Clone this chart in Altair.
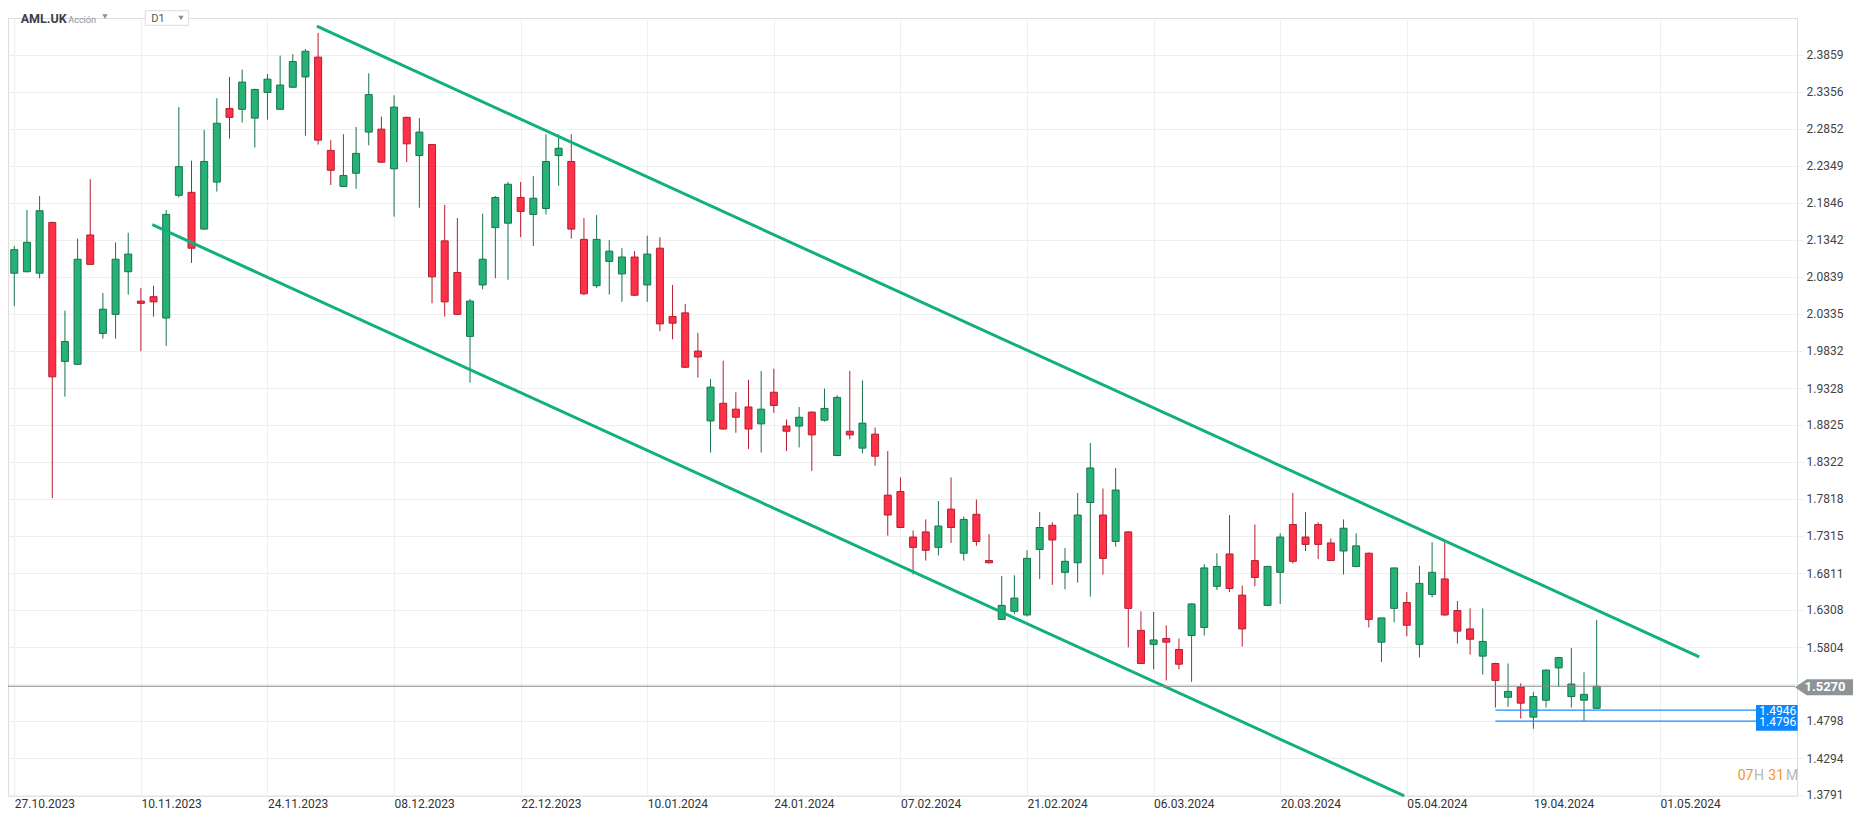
import json
import altair as alt
import pandas as pd

# ---------------- data ----------------
opens = [2.089, 2.091, 2.089, 2.158, 1.969, 1.965, 2.141, 2.007, 2.033, 2.091,
         2.051, 2.057, 2.028, 2.195, 2.199, 2.149, 2.213, 2.313, 2.312, 2.300,
         2.335, 2.312, 2.342, 2.356, 2.383, 2.256, 2.207, 2.225, 2.281, 2.285,
         2.231, 2.301, 2.249, 2.264, 2.133, 2.090, 2.003, 2.073, 2.151, 2.157,
         2.192, 2.169, 2.177, 2.249, 2.241, 2.135, 2.072, 2.105, 2.088, 2.111,
         2.073, 2.123, 2.030, 2.035, 1.983, 1.888, 1.912, 1.904, 1.907, 1.884,
         1.927, 1.881, 1.881, 1.900, 1.889, 1.841, 1.874, 1.851, 1.870, 1.787,
         1.792, 1.730, 1.737, 1.716, 1.768, 1.708, 1.761, 1.698, 1.618, 1.629,
         1.624, 1.713, 1.746, 1.682, 1.695, 1.777, 1.760, 1.724, 1.737, 1.603,
         1.584, 1.592, 1.577, 1.596, 1.607, 1.663, 1.707, 1.651, 1.698, 1.637,
         1.682, 1.747, 1.730, 1.747, 1.722, 1.711, 1.690, 1.708, 1.587, 1.633,
         1.641, 1.584, 1.652, 1.673, 1.630, 1.605, 1.568, 1.558, 1.512, 1.526,
         1.485, 1.508, 1.552, 1.513, 1.508, 1.497]
highs = [2.126, 2.175, 2.194, 2.159, 2.038, 2.136, 2.217, 2.062, 2.131, 2.144,
         2.069, 2.072, 2.175, 2.315, 2.242, 2.284, 2.327, 2.356, 2.366, 2.340,
         2.360, 2.385, 2.387, 2.394, 2.416, 2.270, 2.278, 2.288, 2.361, 2.302,
         2.331, 2.302, 2.300, 2.265, 2.182, 2.164, 2.054, 2.170, 2.194, 2.213,
         2.213, 2.221, 2.278, 2.278, 2.278, 2.164, 2.168, 2.134, 2.123, 2.119,
         2.140, 2.138, 2.073, 2.047, 2.008, 1.945, 1.970, 1.927, 1.944, 1.956,
         1.959, 1.890, 1.907, 1.901, 1.932, 1.923, 1.956, 1.943, 1.879, 1.847,
         1.811, 1.739, 1.754, 1.779, 1.811, 1.758, 1.781, 1.734, 1.677, 1.678,
         1.712, 1.764, 1.750, 1.715, 1.790, 1.858, 1.796, 1.824, 1.738, 1.629,
         1.628, 1.610, 1.592, 1.640, 1.693, 1.708, 1.760, 1.664, 1.747, 1.691,
         1.735, 1.790, 1.764, 1.750, 1.728, 1.754, 1.735, 1.709, 1.620, 1.688,
         1.655, 1.691, 1.723, 1.723, 1.643, 1.633, 1.633, 1.559, 1.558, 1.531,
         1.519, 1.550, 1.567, 1.579, 1.546, 1.617]
lows = [2.044, 2.090, 2.082, 1.783, 1.921, 1.964, 2.100, 2.000, 2.000, 2.060,
        1.983, 2.030, 1.990, 2.192, 2.103, 2.148, 2.200, 2.272, 2.294, 2.260,
        2.298, 2.311, 2.341, 2.276, 2.264, 2.209, 2.206, 2.204, 2.263, 2.239,
        2.166, 2.240, 2.178, 2.048, 2.030, 2.032, 1.940, 2.067, 2.082, 2.080,
        2.138, 2.126, 2.169, 2.208, 2.136, 2.059, 2.069, 2.060, 2.050, 2.058,
        2.050, 2.010, 1.999, 1.960, 1.947, 1.845, 1.876, 1.872, 1.850, 1.845,
        1.899, 1.847, 1.852, 1.820, 1.887, 1.840, 1.863, 1.844, 1.827, 1.732,
        1.742, 1.679, 1.698, 1.705, 1.722, 1.698, 1.718, 1.694, 1.617, 1.625,
        1.622, 1.673, 1.665, 1.659, 1.668, 1.649, 1.679, 1.717, 1.580, 1.557,
        1.550, 1.535, 1.550, 1.533, 1.596, 1.658, 1.655, 1.581, 1.663, 1.636,
        1.639, 1.694, 1.711, 1.700, 1.698, 1.679, 1.689, 1.607, 1.560, 1.614,
        1.595, 1.566, 1.648, 1.623, 1.585, 1.570, 1.543, 1.498, 1.499, 1.483,
        1.469, 1.498, 1.526, 1.498, 1.480, 1.496]
closes = [2.121, 2.131, 2.174, 1.948, 1.996, 2.108, 2.101, 2.040, 2.108, 2.115,
          2.048, 2.050, 2.169, 2.234, 2.123, 2.241, 2.293, 2.301, 2.349, 2.339,
          2.353, 2.345, 2.377, 2.391, 2.270, 2.229, 2.222, 2.252, 2.332, 2.240,
          2.315, 2.265, 2.281, 2.084, 2.050, 2.033, 2.051, 2.108, 2.192, 2.210,
          2.173, 2.191, 2.241, 2.259, 2.149, 2.061, 2.135, 2.119, 2.111, 2.059,
          2.115, 2.020, 2.021, 1.961, 1.975, 1.934, 1.877, 1.893, 1.877, 1.904,
          1.909, 1.874, 1.893, 1.869, 1.905, 1.920, 1.869, 1.885, 1.840, 1.760,
          1.743, 1.716, 1.712, 1.745, 1.743, 1.754, 1.724, 1.695, 1.637, 1.647,
          1.701, 1.743, 1.726, 1.697, 1.760, 1.824, 1.701, 1.794, 1.633, 1.558,
          1.590, 1.587, 1.557, 1.639, 1.688, 1.690, 1.660, 1.605, 1.675, 1.690,
          1.730, 1.697, 1.720, 1.720, 1.698, 1.742, 1.718, 1.618, 1.620, 1.688,
          1.610, 1.667, 1.682, 1.624, 1.602, 1.591, 1.588, 1.535, 1.520, 1.504,
          1.513, 1.549, 1.566, 1.530, 1.516, 1.527]

date_labels = ["27.10.2023", "10.11.2023", "24.11.2023", "08.12.2023", "22.12.2023",
               "10.01.2024", "24.01.2024", "07.02.2024", "21.02.2024", "06.03.2024",
               "20.03.2024", "05.04.2024", "19.04.2024", "01.05.2024"]
date_ticks = [0, 10, 20, 30, 40, 50, 60, 70, 80, 90, 100, 110, 120, 130]
price_ticks = [2.3859, 2.3356, 2.2852, 2.2349, 2.1846, 2.1342, 2.0839, 2.0335,
               1.9832, 1.9328, 1.8825, 1.8322, 1.7818, 1.7315, 1.6811, 1.6308,
               1.5804, 1.5301, 1.4798, 1.4294, 1.3791]

upper_x = [23.9, 133.1]
upper_y = [2.425, 1.567]
lower_x = [10.9, 109.8]
lower_y = [2.155, 1.378]
last_price = 1.5270
levels = [1.4946, 1.4796]
level_start = 117

# ---------------- layout ----------------
W, H = 1789, 778
X_DOM = [-0.102, 140.43]
Y_DOM = [1.3777, 2.4362]

GREEN_FILL, GREEN_LINE = "#26b276", "#17744c"
RED_FILL, RED_LINE = "#ff3047", "#b41e30"
GRID = "#efefef"
FONT = "Roboto"

df = pd.DataFrame({"i": list(range(len(opens))), "open": opens, "high": highs,
                   "low": lows, "close": closes})
df["dir"] = ["up" if c >= o else "down" for o, c in zip(opens, closes)]

xscale = alt.Scale(domain=X_DOM, nice=False, zero=False)
yscale = alt.Scale(domain=Y_DOM, nice=False, zero=False)

label_js = json.dumps(date_labels)
x_axis = alt.Axis(values=date_ticks, labelExpr=f"{label_js}[round(datum.value / 10)]",
                  grid=True, gridColor=GRID, gridWidth=1, domain=True, domainColor="#e6e6e6",
                  ticks=False, labelAlign="left", labelBaseline="top", labelPadding=2,
                  labelFont=FONT, labelFontSize=12, labelColor="#333333",
                  labelFlush=False, labelOverlap=False, title=None)
y_axis = alt.Axis(orient="right", values=price_ticks,
                  labelExpr="format(datum.value, '.4f') == '1.5301' ? '' : format(datum.value, '.4f')",
                  grid=True, gridColor=GRID, gridWidth=1, domain=False, ticks=True,
                  tickColor=GRID, tickSize=6, labelPadding=3, labelFont=FONT,
                  labelFontSize=12, labelColor="#444444", labelFlush=False,
                  labelOverlap=False, title=None)


def X(field):
    return alt.X(f"{field}:Q", scale=xscale, axis=x_axis)


def Y(field):
    return alt.Y(f"{field}:Q", scale=yscale, axis=y_axis)


base = alt.Chart(df)
wicks = base.mark_rule(strokeWidth=1).encode(
    x=X("i"), y=Y("low"), y2="high",
    color=alt.Color("dir:N", scale=alt.Scale(domain=["up", "down"], range=[GREEN_LINE, RED_LINE]),
                    legend=None))
bodies = base.mark_bar(size=7, strokeWidth=1).encode(
    x=X("i"), y=Y("open"), y2="close",
    fill=alt.Fill("dir:N", scale=alt.Scale(domain=["up", "down"], range=[GREEN_FILL, RED_FILL]),
                  legend=None),
    stroke=alt.Stroke("dir:N", scale=alt.Scale(domain=["up", "down"], range=[GREEN_LINE, RED_LINE]),
                      legend=None))

trend_df = pd.DataFrame({"x": upper_x + lower_x, "y": upper_y + lower_y,
                         "g": ["upper", "upper", "lower", "lower"]})
trends = alt.Chart(trend_df).mark_line(strokeWidth=3, color="#12b07a").encode(
    x=X("x"), y=Y("y"), detail="g:N")

price_line = alt.Chart(pd.DataFrame({"p": [last_price]})).mark_rule(
    color="#8a8a8a", strokeWidth=1).encode(y=Y("p"), x=alt.value(0), x2=alt.value(W - 2))

lvl_df = pd.DataFrame({"p": levels, "s": [level_start] * len(levels),
                       "t": [f"{v:.4f}" for v in levels]})
level_lines = alt.Chart(lvl_df).mark_rule(color="#1a8cff", strokeWidth=1.2).encode(
    y=Y("p"), x=X("s"), x2=alt.value(W))

box_hi = alt.Chart(lvl_df.iloc[[0]]).mark_point(
    shape="M-2.606,-0.625L2.606,-0.625L2.606,1L-2.606,1Z", filled=True, size=256,
    opacity=1, color="#0a86ff", strokeWidth=0).encode(x=alt.value(1768.85), y=Y("p"))
box_lo = alt.Chart(lvl_df.iloc[[1]]).mark_point(
    shape="M-2.606,-0.375L2.606,-0.375L2.606,1.2L-2.606,1.2Z", filled=True, size=256,
    opacity=1, color="#0a86ff", strokeWidth=0).encode(x=alt.value(1768.85), y=Y("p"))
lvl_text = alt.Chart(lvl_df).mark_text(color="white", font=FONT, fontSize=12, align="center",
                                       baseline="middle", dy=1).encode(
    x=alt.value(1769.7), y=Y("p"), text="t:N")

tag_df = pd.DataFrame({"p": [last_price], "t": [f"{last_price:.4f}"]})
tag = alt.Chart(tag_df).mark_point(
    shape="M-3.625,0.125L-2.16,-0.875L3.625,-0.875L3.625,1.125L-2.16,1.125Z",
    filled=True, size=256, opacity=1, color="#8c9497", strokeWidth=0).encode(
    x=alt.value(1816), y=Y("p"))
tag_text = alt.Chart(tag_df).mark_text(color="white", font=FONT, fontSize=13, fontWeight="bold",
                                       align="center", baseline="middle", dy=1).encode(
    x=alt.value(1817), y=Y("p"), text="t:N")


def label(txt, x, y, **kw):
    return alt.Chart(pd.DataFrame({"t": [txt]})).mark_text(
        align="left", baseline="middle", font=FONT, **kw).encode(
        x=alt.value(x), y=alt.value(y), text="t:N")


def tri(x, y, size, color):
    return alt.Chart(pd.DataFrame({"t": [0]})).mark_point(
        shape="triangle-down", filled=True, size=size, opacity=1, color=color,
        strokeWidth=0).encode(x=alt.value(x), y=alt.value(y))


d1_box = alt.Chart(pd.DataFrame({"t": [0]})).mark_rect(
    fill="white", stroke="#dcdcdc", strokeWidth=1).encode(
    x=alt.value(137.3), x2=alt.value(180.7), y=alt.value(-7.3), y2=alt.value(7.3))

header = [
    label("AML.UK", 12.7, 0.5, fontSize=12.5, fontWeight="bold", color="#3c4148"),
    label("Acción", 60.3, 1.5, fontSize=9, color="#8a8f94"),
    tri(97, -1.5, 30, "#8a8f94"),
    d1_box,
    label("D1", 143.3, 0.7, fontSize=11, color="#555555"),
    tri(173, 0, 28, "#8a8f94"),
]
countdown = [
    label("07", 1729.7, 758, fontSize=14, color="#f7931a"),
    label("H", 1746, 758, fontSize=14, color="#b8b8b8"),
    label("31", 1760.3, 758, fontSize=14, color="#f7931a"),
    label("M", 1778, 758, fontSize=14, color="#b8b8b8"),
]

chart = alt.layer(
    wicks, bodies, trends, price_line, level_lines, box_hi, box_lo, lvl_text,
    tag, tag_text, *header, *countdown
).properties(
    width=W, height=H,
    autosize=alt.AutoSizeParams(type="none"),
    padding={"left": 0, "top": 10, "right": 57, "bottom": 15},
    background="white",
).configure_view(stroke=None).configure(font=FONT)

chart.save("out.html", embed_options={"renderer": "svg", "actions": False})
